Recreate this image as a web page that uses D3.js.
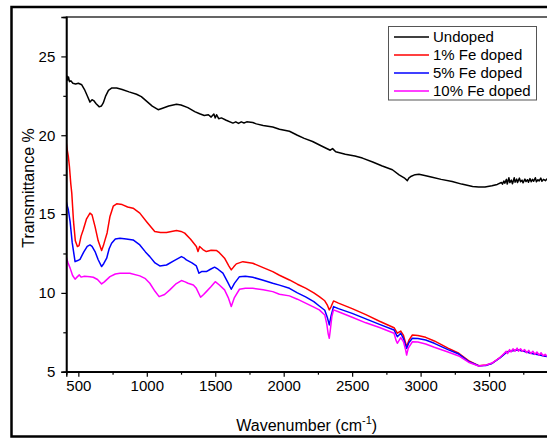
<!DOCTYPE html>
<html>
<head>
<meta charset="utf-8">
<script src="https://cdn.jsdelivr.net/npm/d3@7"></script>
<style>
  html, body { margin: 0; padding: 0; background: #fff; }
  svg { display: block; font-family: "Liberation Sans", Arial, sans-serif; }
</style>
</head>
<body>
<svg id="chart" width="547" height="439"></svg>
<script>
// FTIR transmittance spectra: [wavenumber (cm^-1), transmittance %]
const undoped = [
  [412, 23.55], [418, 23.75], [422, 23.5], [428, 23.7], [435, 23.4], [445, 23.45], [460, 23.3],
  [480, 23.25], [500, 23.3], [525, 23.2], [545, 22.9], [565, 22.5], [585, 22.1], [600, 22.25],
  [612, 22.2], [630, 22.0], [653, 21.8], [668, 21.85], [682, 22.05], [700, 22.5], [720, 22.85],
  [745, 23.0], [780, 23.0], [820, 22.9], [870, 22.75], [925, 22.6], [960, 22.45], [1000, 22.15],
  [1040, 21.85], [1083, 21.62], [1110, 21.7], [1160, 21.85], [1217, 21.97], [1250, 21.92],
  [1300, 21.75], [1350, 21.5], [1386, 21.36], [1420, 21.25], [1450, 21.3], [1470, 21.15],
  [1490, 21.35], [1500, 21.1], [1510, 21.3], [1525, 21.05], [1545, 21.1], [1580, 20.95],
  [1629, 20.77], [1650, 20.85], [1670, 20.75], [1690, 20.85], [1710, 20.78], [1730, 20.85],
  [1774, 20.81], [1800, 20.72], [1850, 20.62], [1920, 20.52], [1969, 20.38], [2042, 20.25],
  [2100, 20.0], [2150, 19.8], [2211, 19.6], [2280, 19.3], [2340, 19.05], [2357, 19.15],
  [2380, 18.95], [2450, 18.8], [2520, 18.68], [2575, 18.55], [2650, 18.3], [2720, 18.05],
  [2794, 17.81], [2843, 17.49], [2880, 17.3], [2903, 17.12], [2915, 17.3], [2928, 17.38],
  [2960, 17.5], [2988, 17.53], [3030, 17.45], [3085, 17.34], [3150, 17.2], [3231, 17.06],
  [3300, 16.9], [3380, 16.75], [3424, 16.71], [3470, 16.72], [3521, 16.79], [3560, 16.88],
  [3590, 17.0], [3598, 16.9], [3608, 17.1], [3615, 16.95], [3627, 17.2], [3633, 16.9],
  [3645, 17.3], [3652, 17.0], [3663, 17.15], [3671, 16.92], [3684, 17.3], [3690, 17.02],
  [3702, 17.22], [3708, 17.0], [3722, 17.28], [3730, 17.05], [3741, 17.15], [3748, 16.98],
  [3762, 17.22], [3770, 17.06], [3781, 17.18], [3788, 17.02], [3799, 17.25], [3808, 17.05],
  [3818, 17.2], [3826, 17.08], [3838, 17.3], [3846, 17.05], [3857, 17.18], [3866, 17.1],
  [3878, 17.28], [3886, 17.08], [3898, 17.2], [3912, 17.12], [3925, 17.24], [3940, 17.1],
  [3960, 17.2], [3980, 17.15], [4000, 17.2]
];

const fe1 = [
  [412, 19.5], [420, 19.0], [427, 18.65], [435, 18.0], [445, 16.9], [452, 16.33], [465, 14.5],
  [478, 13.3], [493, 12.94], [505, 13.0], [520, 13.6], [536, 14.0], [560, 14.7], [585, 15.06],
  [600, 14.95], [622, 14.2], [645, 13.3], [670, 12.69], [683, 13.0], [695, 13.36], [710, 13.8],
  [731, 14.85], [755, 15.5], [780, 15.65], [820, 15.6], [860, 15.45], [900, 15.37], [949, 15.06],
  [1000, 14.5], [1058, 13.89], [1100, 13.83], [1144, 13.83], [1180, 13.9], [1217, 13.95],
  [1250, 13.9], [1277, 13.79], [1320, 13.4], [1362, 12.94], [1374, 12.62], [1386, 12.94],
  [1410, 12.75], [1435, 12.62], [1470, 12.7], [1508, 12.69], [1530, 12.55], [1568, 12.2],
  [1600, 11.7], [1617, 11.46], [1635, 11.65], [1654, 11.84], [1702, 11.98], [1774, 11.88],
  [1850, 11.6], [1920, 11.35], [1969, 11.12], [2042, 10.82], [2100, 10.55], [2160, 10.3],
  [2220, 10.0], [2260, 9.76], [2300, 9.5], [2320, 9.2], [2333, 8.92], [2345, 9.1], [2364, 9.49],
  [2400, 9.35], [2500, 9.0], [2600, 8.62], [2700, 8.2], [2806, 7.79], [2830, 7.44], [2855, 7.58],
  [2875, 7.3], [2898, 6.59], [2915, 7.0], [2940, 7.33], [2980, 7.3], [3037, 7.18], [3100, 6.95],
  [3200, 6.5], [3279, 6.17], [3350, 5.7], [3424, 5.38], [3480, 5.42], [3521, 5.53], [3580, 5.9],
  [3631, 6.27], [3670, 6.35], [3716, 6.38], [3760, 6.3], [3813, 6.17], [3860, 6.1], [3910, 6.0],
  [3960, 5.95], [4000, 5.95]
];

const fe5 = [
  [412, 15.79], [420, 15.5], [427, 15.27], [440, 14.5], [455, 13.2], [476, 11.98], [495, 12.05],
  [512, 12.13], [540, 12.6], [565, 12.95], [585, 13.04], [600, 12.95], [622, 12.62], [645, 12.1],
  [670, 11.67], [685, 11.85], [707, 12.2], [725, 12.8], [743, 13.15], [770, 13.42], [804, 13.47],
  [850, 13.42], [900, 13.36], [949, 13.04], [990, 12.6], [1022, 12.3], [1060, 11.9], [1095, 11.71],
  [1144, 11.77], [1200, 12.05], [1253, 12.3], [1275, 12.2], [1289, 12.09], [1330, 11.9],
  [1362, 11.71], [1381, 11.25], [1400, 11.35], [1435, 11.35], [1465, 11.5], [1495, 11.63],
  [1520, 11.5], [1556, 11.25], [1590, 10.7], [1617, 10.23], [1640, 10.6], [1677, 11.03],
  [1720, 11.05], [1774, 10.99], [1850, 10.8], [1920, 10.61], [1969, 10.49], [2042, 10.29],
  [2100, 10.0], [2160, 9.75], [2220, 9.45], [2260, 9.17], [2300, 8.9], [2320, 8.4], [2333, 7.97],
  [2345, 8.5], [2364, 9.13], [2400, 9.0], [2500, 8.7], [2600, 8.35], [2700, 8.0], [2806, 7.65],
  [2830, 7.22], [2855, 7.44], [2875, 7.1], [2898, 6.48], [2915, 6.85], [2940, 7.12], [2980, 7.1],
  [3037, 7.01], [3100, 6.8], [3200, 6.4], [3279, 6.12], [3350, 5.65], [3424, 5.38], [3480, 5.4],
  [3521, 5.52], [3580, 5.88], [3631, 6.25], [3670, 6.33], [3716, 6.37], [3760, 6.28], [3813, 6.15],
  [3860, 6.08], [3910, 5.98], [3960, 5.94], [4000, 5.92]
];

const fe10 = [
  [412, 12.26], [425, 11.9], [440, 11.57], [458, 11.1], [476, 10.87], [490, 11.0], [507, 11.14],
  [520, 11.0], [545, 11.05], [585, 11.03], [609, 10.99], [640, 10.85], [670, 10.57], [690, 10.7],
  [731, 11.03], [770, 11.2], [804, 11.25], [876, 11.25], [949, 11.08], [990, 10.9], [1022, 10.61],
  [1060, 10.1], [1090, 9.76], [1130, 9.9], [1168, 10.19], [1210, 10.55], [1253, 10.78],
  [1280, 10.7], [1301, 10.61], [1340, 10.5], [1362, 10.29], [1393, 9.72], [1415, 9.9],
  [1435, 10.08], [1470, 10.4], [1500, 10.71], [1530, 10.5], [1568, 10.19], [1595, 9.7],
  [1617, 9.13], [1640, 9.7], [1677, 10.23], [1720, 10.3], [1774, 10.29], [1850, 10.2],
  [1920, 10.08], [1969, 9.91], [2042, 9.81], [2100, 9.6], [2160, 9.35], [2220, 9.1], [2260, 8.92],
  [2300, 8.6], [2315, 8.0], [2325, 7.4], [2333, 7.12], [2340, 7.6], [2352, 8.5], [2364, 8.92],
  [2400, 8.8], [2500, 8.45], [2600, 8.1], [2700, 7.8], [2806, 7.44], [2820, 7.0], [2830, 6.8],
  [2855, 7.16], [2875, 6.9], [2890, 6.4], [2898, 6.06], [2910, 6.5], [2940, 6.9], [2980, 6.88],
  [3037, 6.76], [3100, 6.55], [3200, 6.25], [3279, 6.0], [3350, 5.6], [3424, 5.36], [3480, 5.42],
  [3521, 5.55], [3580, 5.9], [3610, 6.15], [3625, 6.3], [3635, 6.15], [3650, 6.4], [3660, 6.25],
  [3675, 6.45], [3690, 6.3], [3705, 6.5], [3715, 6.3], [3730, 6.45], [3745, 6.3], [3760, 6.4],
  [3775, 6.2], [3790, 6.35], [3805, 6.15], [3820, 6.3], [3835, 6.1], [3850, 6.25], [3865, 6.05],
  [3880, 6.2], [3895, 6.0], [3910, 6.1], [3930, 5.95], [3950, 6.05], [3970, 5.9], [4000, 6.0]
];

const seriesNames = ["Undoped", "1% Fe doped", "5% Fe doped", "10% Fe doped"];
const seriesColors = ["#000000", "#ff0000", "#0000ff", "#ff00ff"];
const seriesData = [undoped, fe1, fe5, fe10];

const xMajorTicks = [500, 1000, 1500, 2000, 2500, 3000, 3500];
const xMinorTicks = [750, 1250, 1750, 2250, 2750, 3250, 3750];
const yMajorTicks = [5, 10, 15, 20, 25];
const yMinorTicks = [7.5, 12.5, 17.5, 22.5];

const svg = d3.select("#chart");

// Outer figure frame (runs past the right edge of the page)
svg.append("rect")
  .attr("x", 11.5).attr("y", 7)
  .attr("width", 620).attr("height", 429.5)
  .attr("fill", "none").attr("stroke", "#000").attr("stroke-width", 2.5);

const plot = { left: 66.3, top: 17, right: 557.5, bottom: 371.7 };

const x = d3.scaleLinear().domain([412, 4000]).range([plot.left, plot.right]);
const y = d3.scaleLinear().domain([5, 27.5]).range([plot.bottom, plot.top]);

// Clip the spectra to the plotting area
svg.append("clipPath").attr("id", "plotClip")
  .append("rect")
  .attr("x", plot.left).attr("y", plot.top)
  .attr("width", plot.right - plot.left).attr("height", plot.bottom - plot.top);

const line = d3.line().x(d => x(d[0])).y(d => y(d[1]));

const lines = svg.append("g").attr("clip-path", "url(#plotClip)");
seriesData.forEach((data, i) => {
  lines.append("path")
    .datum(data)
    .attr("d", line)
    .attr("fill", "none")
    .attr("stroke", seriesColors[i])
    .attr("stroke-width", 1.5)
    .attr("stroke-linejoin", "round");
});

// Plot frame
svg.append("rect")
  .attr("x", plot.left).attr("y", plot.top)
  .attr("width", plot.right - plot.left).attr("height", plot.bottom - plot.top)
  .attr("fill", "none").attr("stroke", "#000").attr("stroke-width", 1.2);

// X axis
const xAxis = svg.append("g").attr("transform", `translate(0,${plot.bottom})`)
  .call(d3.axisBottom(x).tickValues(xMajorTicks).tickSize(5).tickPadding(4).tickFormat(d3.format("d")));
const xMinor = svg.append("g").attr("transform", `translate(0,${plot.bottom})`)
  .call(d3.axisBottom(x).tickValues(xMinorTicks).tickSize(3).tickFormat(""));

// Y axis
const yAxis = svg.append("g").attr("transform", `translate(${plot.left},0)`)
  .call(d3.axisLeft(y).tickValues(yMajorTicks).tickSize(5).tickPadding(6).tickFormat(d3.format("d")));
const yMinor = svg.append("g").attr("transform", `translate(${plot.left},0)`)
  .call(d3.axisLeft(y).tickValues(yMinorTicks).tickSize(3).tickFormat(""));

[xAxis, xMinor, yAxis, yMinor].forEach(g => {
  g.select(".domain").attr("stroke", "#000").attr("stroke-width", 1.4);
  g.selectAll(".tick line").attr("stroke", "#000").attr("stroke-width", 1.2);
  g.selectAll(".tick text")
    .attr("fill", "#000")
    .style("font-family", '"Liberation Sans", Arial, sans-serif')
    .style("font-size", "15px");
});

// Axis titles
svg.append("text")
  .attr("x", 306.7).attr("y", 430.5)
  .attr("text-anchor", "middle")
  .style("font-size", "16px")
  .attr("fill", "#000")
  .call(t => {
    t.append("tspan").text("Wavenumber (cm");
    t.append("tspan").attr("dy", -7).style("font-size", "11px").text("-1");
    t.append("tspan").attr("dy", 7).text(")");
  });

svg.append("text")
  .attr("transform", "translate(33.5,188) rotate(-90)")
  .attr("text-anchor", "middle")
  .style("font-size", "16px")
  .attr("fill", "#000")
  .text("Transmittance %");

// Legend
const legend = svg.append("g");
legend.append("rect")
  .attr("x", 388.5).attr("y", 26.5)
  .attr("width", 148).attr("height", 73.5)
  .attr("fill", "#fff").attr("stroke", "#555").attr("stroke-width", 1);

seriesNames.forEach((name, i) => {
  const cy = 37 + i * 18;
  legend.append("line")
    .attr("x1", 394).attr("x2", 429)
    .attr("y1", cy).attr("y2", cy)
    .attr("stroke", seriesColors[i]).attr("stroke-width", 1.5);
  legend.append("text")
    .attr("x", 433).attr("y", cy).attr("dy", "0.35em")
    .style("font-size", "15px")
    .attr("fill", "#000")
    .text(name);
});
</script>
</body>
</html>
